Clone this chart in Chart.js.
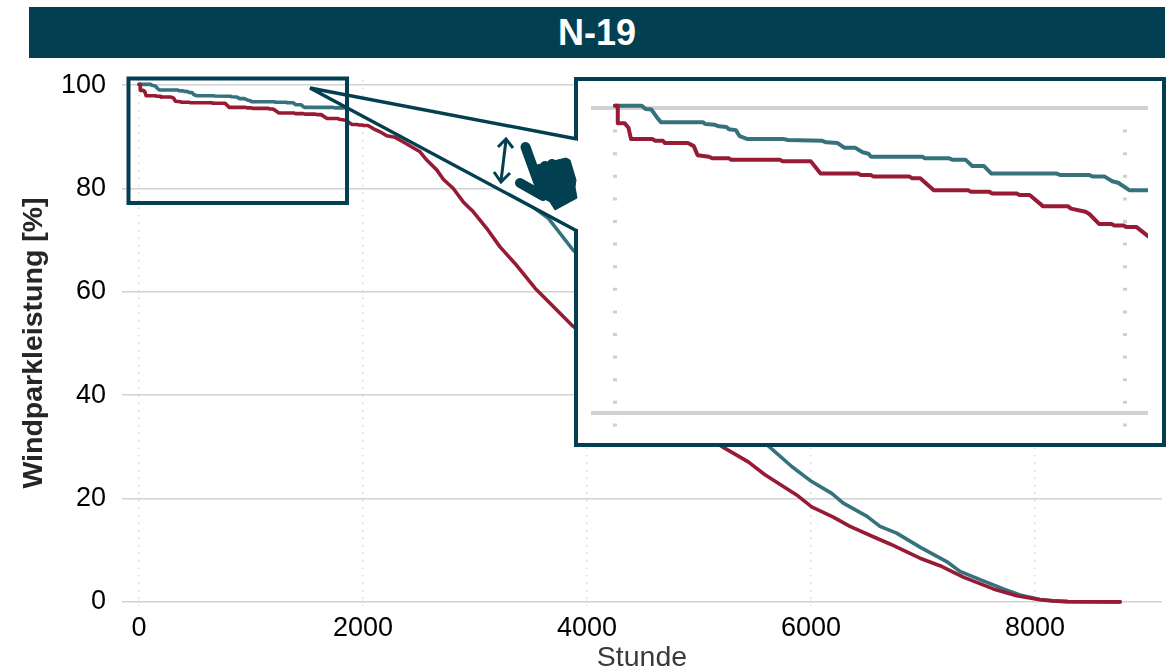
<!DOCTYPE html>
<html>
<head>
<meta charset="utf-8">
<title>N-19</title>
<script src="https://cdn.jsdelivr.net/npm/chart.js@4/dist/chart.umd.js"></script>
<style>
    html, body { margin: 0; padding: 0; background: #fff; overflow: hidden; }
    #wrap { position: relative; width: 1173px; height: 672px; font-family: "Liberation Sans", Arial, sans-serif; }
    #mainChart { position: absolute; left: 0; top: 0; }
    #titleBar { position: absolute; left: 29px; top: 7px; width: 1136px; height: 51px; line-height: 51px; background: #023f50; color: #fff; font-size: 36px; font-weight: bold; text-align: center; }
    #insetBox { position: absolute; left: 574px; top: 77px; width: 584px; height: 362px; border: 4px solid #023f50; background: #fff; }
    #insetChart { position: absolute; left: 591px; top: 100px; }
    #marks { position: absolute; left: 0; top: 0; }
</style>
</head>
<body>
<div id="wrap">
    <canvas id="mainChart" width="1173" height="672"></canvas>
    <div id="titleBar">N-19</div>
    <div id="insetBox"></div>
    <canvas id="insetChart" width="557" height="327"></canvas>
    <svg id="marks" width="1173" height="672">
        <!-- white part of the zoom wedge, starts at the right edge of the small box -->
        <polygon points="347,95 577,139 577,231 347,108" fill="#fff"></polygon>
        <rect x="573" y="141" width="6" height="88" fill="#fff"></rect>
        <rect x="128.5" y="78.5" width="218.5" height="124.5" fill="none" stroke="#023f50" stroke-width="4"></rect>
        <polyline points="577,139 310,88 577,231" fill="none" stroke="#023f50" stroke-width="3.5"></polyline>
        <!-- up/down arrow -->
        <g fill="none" stroke="#023f50" stroke-width="3">
            <line x1="506" y1="140" x2="501" y2="181"></line>
            <polyline points="498,147 506,139 513,148"></polyline>
            <polyline points="494,172 501,182 510,173"></polyline>
        </g>
        <!-- hand -->
        <g fill="#023f50" stroke="#023f50" stroke-linecap="round">
            <line x1="525.5" y1="147" x2="540" y2="187" stroke-width="10"></line>
            <line x1="520" y1="183" x2="543" y2="196" stroke-width="10"></line>
            <line x1="545" y1="166" x2="545" y2="185" stroke-width="10"></line>
            <line x1="552" y1="164" x2="552" y2="185" stroke-width="10"></line>
            <line x1="560" y1="165" x2="560" y2="185" stroke-width="10"></line>
            <polygon stroke-width="1" points="537,165 566,158 570,160 576,180 575,187 577,198 555,210 550,202 538,195"></polygon>
        </g>
    </svg>
</div>
<script>
var hoursTeal = [0, 105, 120, 143, 166, 181, 346, 354, 392, 407, 437, 447, 474, 489, 520, 663, 678, 813, 828, 873, 899, 941, 971, 994, 1004, 1205, 1215, 1310, 1325, 1375, 1401, 1446, 1476, 1732, 1747, 1860, 1875, 1920, 1950, 1973, 2018, 2090, 2200, 2600, 3000, 3400, 3652, 3875, 4200, 4600, 5000, 5300, 5634, 5828, 5991, 6185, 6288, 6497, 6616, 6765, 6973, 7211, 7330, 7538, 7717, 7866, 8045, 8157, 8295, 8760];
var valuesTeal = [100.15, 100.15, 99.93, 99.9, 99.35, 99.06, 99.06, 98.95, 98.9, 98.8, 98.75, 98.6, 98.55, 98.15, 97.96, 97.96, 97.9, 97.85, 97.75, 97.7, 97.4, 97.4, 97.1, 97, 96.8, 96.8, 96.7, 96.7, 96.6, 96.6, 96.2, 96.2, 95.7, 95.7, 95.6, 95.6, 95.5, 95.5, 95.2, 95.1, 94.6, 94.6, 92.5, 87.5, 83, 78.3, 74.3, 68.1, 61.5, 52, 42, 36, 29.9, 26.2, 23.5, 21, 19.1, 16.6, 14.6, 13.3, 10.6, 7.8, 5.9, 4.06, 2.5, 1.35, 0.45, 0.2, 0.05, 0];

var hoursRed = [0, 11, 11, 38, 53, 63, 146, 158, 188, 196, 286, 309, 324, 369, 381, 447, 456, 648, 658, 768, 806, 953, 964, 1004, 1014, 1155, 1164, 1197, 1250, 1386, 1396, 1468, 1479, 1574, 1586, 1626, 1679, 1777, 1788, 1845, 1860, 1898, 1947, 1958, 1995, 2003, 2044, 2090, 2152, 2212, 2286, 2360, 2509, 2569, 2658, 2717, 2806, 2895, 2985, 3104, 3223, 3357, 3536, 3670, 3872, 4200, 4600, 5000, 5217, 5440, 5589, 5872, 6006, 6199, 6348, 6556, 6705, 6973, 7152, 7360, 7628, 7837, 8045, 8157, 8295, 8760];
var valuesRed = [100.15, 100.15, 99, 99, 98.7, 97.96, 97.96, 97.85, 97.85, 97.7, 97.7, 97.5, 96.9, 96.8, 96.7, 96.7, 96.6, 96.6, 96.5, 96.5, 95.7, 95.7, 95.6, 95.6, 95.5, 95.5, 95.4, 95.4, 94.6, 94.6, 94.5, 94.5, 94.4, 94.4, 94.3, 94.3, 93.55, 93.55, 93.4, 93.2, 93.05, 92.4, 92.4, 92.3, 92.3, 92.2, 92.2, 91.6, 90.97, 90.2, 89.9, 89, 87.1, 85.5, 83.6, 81.8, 80, 77.4, 75.5, 72.3, 68.7, 65.5, 60.7, 57.8, 53.4, 47.5, 39.5, 33, 29.9, 27.1, 24.6, 20.7, 18.4, 16.4, 14.6, 12.6, 11.2, 8.45, 7, 4.8, 2.5, 1.2, 0.4, 0.2, 0.05, 0];

var xTicks = [0, 2000, 4000, 6000, 8000];
var yTicks = [0, 20, 40, 60, 80, 100];
var insetXTicks = [0, 2000];
var insetYTicks = [80, 100];

var colorTeal = "#36727d";
var colorRed = "#971b35";
var colorGrid = "#d2d2d2";
var fontName = "'Liberation Sans', Arial, sans-serif";

function toPoints(xs, ys) {
    var pts = [];
    for (var i = 0; i < xs.length; i++) pts.push({ x: xs[i], y: ys[i] });
    return pts;
}

function fixedTicks(list) {
    return function (scale) {
        scale.ticks = list.map(function (v) { return { value: v }; });
    };
}

function plainLabel(v) {
    return String(v);
}

function lineSets(width, clip) {
    return [
        { label: "Teal", data: toPoints(hoursTeal, valuesTeal), borderColor: colorTeal, borderWidth: width, borderJoinStyle: "round", borderCapStyle: "round", pointRadius: 0, tension: 0, clip: clip, order: 2 },
        { label: "Red", data: toPoints(hoursRed, valuesRed), borderColor: colorRed, borderWidth: width, borderJoinStyle: "round", borderCapStyle: "round", pointRadius: 0, tension: 0, clip: clip, order: 1 }
    ];
}

new Chart(document.getElementById("mainChart"), {
    type: "line",
    data: { datasets: lineSets(3.6, false) },
    options: {
        responsive: false,
        animation: false,
        parsing: false,
        layout: { padding: { left: 0, right: 11, top: 80, bottom: 0 } },
        plugins: { legend: { display: false }, tooltip: { enabled: false } },
        scales: {
            x: {
                type: "linear",
                min: -152,
                max: 9134,
                afterBuildTicks: fixedTicks(xTicks),
                afterFit: function (s) { s.height = 66; },
                border: { display: false, dash: [1.5, 6] },
                grid: { color: "#d8d8d8", lineWidth: 1.5, drawTicks: false },
                ticks: { color: "#000", font: { family: fontName, size: 27 }, padding: 6, maxRotation: 0, autoSkip: false, callback: plainLabel },
                title: { display: true, text: "Stunde", color: "#3a3a3a", font: { family: fontName, size: 28.5, lineHeight: 1 }, padding: { top: 0, bottom: 0 } }
            },
            y: {
                type: "linear",
                min: -0.8,
                max: 101,
                afterBuildTicks: fixedTicks(yTicks),
                afterFit: function (s) { s.width = 122; },
                border: { display: false },
                grid: { color: colorGrid, lineWidth: 1.5, drawTicks: false },
                ticks: { color: "#000", font: { family: fontName, size: 27 }, padding: 16, callback: plainLabel },
                title: { display: true, text: "Windparkleistung [%]", color: "#262626", font: { family: fontName, size: 28.5, weight: "bold", lineHeight: 1 }, padding: { top: 20, bottom: 0 } }
            }
        }
    }
});

new Chart(document.getElementById("insetChart"), {
    type: "line",
    data: { datasets: lineSets(4, undefined) },
    options: {
        responsive: false,
        animation: false,
        parsing: false,
        layout: { padding: 0 },
        plugins: { legend: { display: false }, tooltip: { enabled: false } },
        scales: {
            x: {
                type: "linear",
                min: -94,
                max: 2090,
                afterBuildTicks: fixedTicks(insetXTicks),
                border: { display: false, dash: [3, 19.6], dashOffset: 15.6 },
                grid: { color: "#cfcfcf", lineWidth: 4, drawTicks: false },
                ticks: { display: false }
            },
            y: {
                type: "linear",
                min: 79.08,
                max: 100.525,
                afterBuildTicks: fixedTicks(insetYTicks),
                border: { display: false },
                grid: { color: colorGrid, lineWidth: 4, drawTicks: false },
                ticks: { display: false }
            }
        }
    }
});
</script>
</body>
</html>
